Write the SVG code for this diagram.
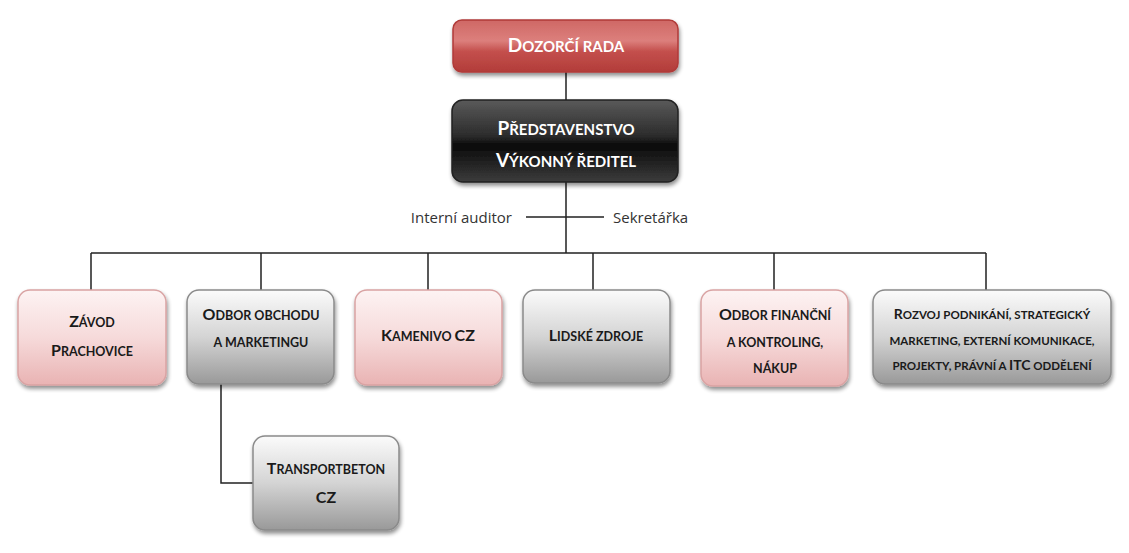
<svg xmlns="http://www.w3.org/2000/svg" width="1129" height="553" viewBox="0 0 1129 553">
<defs>
<linearGradient id="gRed" x1="0" y1="0" x2="0" y2="1">
<stop offset="0" stop-color="#cf6865"/>
<stop offset="0.4" stop-color="#dc7f7c"/>
<stop offset="0.6" stop-color="#c4504d"/>
<stop offset="1" stop-color="#b23c39"/>
</linearGradient>
<linearGradient id="gBlack" x1="0" y1="0" x2="0" y2="1">
<stop offset="0" stop-color="#5a5a5a"/>
<stop offset="0.45" stop-color="#2a2a2a"/>
<stop offset="0.55" stop-color="#0a0a0a"/>
<stop offset="1" stop-color="#3c3c3c"/>
</linearGradient>
<linearGradient id="gPink" x1="0" y1="0" x2="0" y2="1">
<stop offset="0" stop-color="#fdf3f3"/>
<stop offset="0.5" stop-color="#f6dada"/>
<stop offset="1" stop-color="#e9b3b3"/>
</linearGradient>
<linearGradient id="gGrey" x1="0" y1="0" x2="0" y2="1">
<stop offset="0" stop-color="#fbfbfb"/>
<stop offset="0.5" stop-color="#d4d4d4"/>
<stop offset="1" stop-color="#999999"/>
</linearGradient>
<filter id="sh" x="-10%" y="-10%" width="120%" height="130%">
<feGaussianBlur in="SourceAlpha" stdDeviation="2"/>
<feOffset dx="1" dy="3" result="o"/>
<feComponentTransfer><feFuncA type="linear" slope="0.45"/></feComponentTransfer>
<feMerge><feMergeNode/><feMergeNode in="SourceGraphic"/></feMerge>
</filter>
</defs>
<style>
.t{font-family:Lato,"Open Sans","Liberation Sans",sans-serif;font-weight:bold;text-anchor:middle;fill:#1a1a1a;font-size:16px}
.t tspan{font-size:12.5px}
.t tspan.b{font-size:16px}
.w{fill:#ffffff;font-size:19px}
.w tspan{font-size:15px}
.w tspan.b{font-size:19px}
.r{font-size:14px}
.r tspan{font-size:11.5px}
.r tspan.b{font-size:14px}
.lbl{font-family:"Open Sans","Liberation Sans",sans-serif;font-size:15px;fill:#333}
.pink{fill:url(#gPink);stroke:#d9a3a3;stroke-width:1.5}
.grey{fill:url(#gGrey);stroke:#8a8a8a;stroke-width:1.5}
.ln{stroke:#222;stroke-width:1.5;fill:none}
</style>
<g id="connectors">
<path class="ln" d="M566 72V100M566 182V253M526 217H604M91 253H986M91 253V290M261 253V290M428 253V290M593 253V290M774 253V290M986 253V290M221 384V483H253"/>
</g>
<g id="dozorci-rada">
<rect x="453" y="20" width="225" height="52" rx="9" fill="url(#gRed)" stroke="#b03a38" stroke-width="1.5" filter="url(#sh)"/>
<text class="t w" x="566" y="52">D<tspan>OZORČÍ RADA</tspan></text>
</g>
<g id="predstavenstvo">
<rect x="452" y="100" width="226" height="82" rx="11" fill="url(#gBlack)" stroke="#222" stroke-width="1.5" filter="url(#sh)"/>
<text class="t w" x="566" y="135">P<tspan>ŘEDSTAVENSTVO</tspan></text>
<text class="t w" x="566" y="167">V<tspan>ÝKONNÝ ŘEDITEL</tspan></text>
</g>
<g id="interni-auditor"><text class="lbl" x="512" y="223" text-anchor="end">Interní auditor</text></g>
<g id="sekretarka"><text class="lbl" x="613" y="223">Sekretářka</text></g>
<g id="zavod">
<rect class="pink" x="18" y="290" width="148" height="95" rx="12" filter="url(#sh)"/>
<text class="t" x="92" y="327">Z<tspan>ÁVOD</tspan></text>
<text class="t" x="92" y="356">P<tspan>RACHOVICE</tspan></text>
</g>
<g id="odbor-obchodu">
<rect class="grey" x="187" y="290" width="147" height="94" rx="12" filter="url(#sh)"/>
<text class="t" x="261" y="320">O<tspan>DBOR OBCHODU</tspan></text>
<text class="t" x="261" y="347"><tspan>A MARKETINGU</tspan></text>
</g>
<g id="kamenivo">
<rect class="pink" x="355" y="290" width="147" height="95" rx="12" filter="url(#sh)"/>
<text class="t" x="428" y="341">K<tspan>AMENIVO </tspan>CZ</text>
</g>
<g id="lidske-zdroje">
<rect class="grey" x="523" y="290" width="147" height="93" rx="12" filter="url(#sh)"/>
<text class="t" x="596" y="341">L<tspan>IDSKÉ ZDROJE</tspan></text>
</g>
<g id="odbor-financni">
<rect class="pink" x="701" y="290" width="147" height="96" rx="12" filter="url(#sh)"/>
<text class="t" x="775" y="320">O<tspan>DBOR FINANČNÍ</tspan></text>
<text class="t" x="775" y="347"><tspan>A KONTROLING,</tspan></text>
<text class="t" x="775" y="373"><tspan>NÁKUP</tspan></text>
</g>
<g id="rozvoj">
<rect class="grey" x="873" y="290" width="238" height="94" rx="12" filter="url(#sh)"/>
<text class="t r" x="992" y="319">R<tspan>OZVOJ PODNIKÁNÍ, STRATEGICKÝ</tspan></text>
<text class="t r" x="992" y="345"><tspan>MARKETING, EXTERNÍ KOMUNIKACE,</tspan></text>
<text class="t r" x="992" y="370"><tspan>PROJEKTY, PRÁVNÍ A </tspan><tspan class="b">ITC</tspan><tspan> ODDĚLENÍ</tspan></text>
</g>
<g id="transportbeton">
<rect class="grey" x="253" y="436" width="146" height="94" rx="12" filter="url(#sh)"/>
<text class="t" x="326" y="474">T<tspan>RANSPORTBETON</tspan></text>
<text class="t" x="326" y="503">CZ</text>
</g>
</svg>
